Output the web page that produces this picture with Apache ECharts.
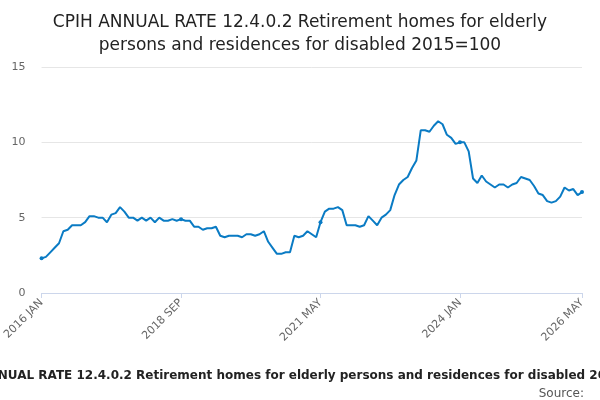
<!DOCTYPE html>
<html>
<head>
<meta charset="utf-8">
<script src="https://cdn.jsdelivr.net/npm/echarts@6/dist/echarts.min.js"></script>
<style>
    html, body { margin: 0; padding: 0; background: #fff; }
    #chart { width: 600px; height: 400px; }
</style>
</head>
<body>
<div id="chart"></div>
<script>
const monthNames = ["JAN", "FEB", "MAR", "APR", "MAY", "JUN", "JUL", "AUG", "SEP", "OCT", "NOV", "DEC"];
const startYear = 2016;
const monthCount = 125;

const rates = [
    2.3, 2.4, 2.7, 3.0, 3.3, 4.1, 4.2, 4.5, 4.5, 4.5, 4.7, 5.1,
    5.1, 5.0, 5.0, 4.7, 5.2, 5.3, 5.7, 5.4, 5.0, 5.0, 4.8, 5.0,
    4.8, 5.0, 4.7, 5.0, 4.8, 4.8, 4.9, 4.8, 4.9, 4.8, 4.8, 4.4,
    4.4, 4.2, 4.3, 4.3, 4.4, 3.8, 3.7, 3.8, 3.8, 3.8, 3.7, 3.9,
    3.9, 3.8, 3.9, 4.1, 3.4, 3.0, 2.6, 2.6, 2.7, 2.7, 3.8, 3.7,
    3.8, 4.1, 3.9, 3.7, 4.7, 5.4, 5.6, 5.6, 5.7, 5.5, 4.5, 4.5,
    4.5, 4.4, 4.5, 5.1, 4.8, 4.5, 5.0, 5.2, 5.5, 6.5, 7.2, 7.5,
    7.7, 8.3, 8.8, 10.8, 10.8, 10.7, 11.1, 11.4, 11.2, 10.5, 10.3, 9.9,
    10.0, 10.0, 9.4, 7.6, 7.3, 7.8, 7.4, 7.2, 7.0, 7.2, 7.2, 7.0,
    7.2, 7.3, 7.7, 7.6, 7.5, 7.1, 6.6, 6.5, 6.1, 6.0, 6.1, 6.4,
    7.0, 6.8, 6.9, 6.5, 6.7
];

const months = [];
for (let i = 0; i < monthCount; i++) {
    months.push((startYear + Math.floor(i / 12)) + " " + monthNames[i % 12]);
}

const yTicks = [0, 5, 10, 15];
const labelIdx = [0, 32, 64, 96, 124];

const chart = echarts.init(document.getElementById("chart"));

chart.setOption({
    animation: false,
    title: [
        {
            text: "CPIH ANNUAL RATE 12.4.0.2 Retirement homes for elderly\npersons and residences for disabled 2015=100",
            left: "center",
            top: 6,
            textStyle: {
                color: "#222",
                fontSize: 17,
                fontWeight: "normal",
                fontFamily: "DejaVu Sans",
                lineHeight: 23,
            }
        },
        {
            text: "CPIH ANNUAL RATE 12.4.0.2 Retirement homes for elderly persons and residences for disabled 2015=100",
            left: "center",
            top: 365,
            textStyle: {
                color: "#222",
                fontSize: 12,
                fontWeight: "bold",
                fontFamily: "DejaVu Sans",
            }
        },
        {
            text: "Source:",
            right: 11,
            top: 383,
            textStyle: {
                color: "#555",
                fontSize: 12,
                fontWeight: "normal",
                fontFamily: "DejaVu Sans",
            }
        }
    ],
    grid: {
        left: 40,
        right: 18,
        top: 67,
        bottom: 107,
    },
    xAxis: {
        type: "category",
        data: months,
        boundaryGap: false,
        axisLine: { lineStyle: { color: "#ccd6eb" } },
        axisTick: {
            show: true,
            alignWithLabel: true,
            interval: (i) => labelIdx.includes(i),
            lineStyle: { color: "#ccd6eb" },
        },
        axisLabel: {
            interval: (i) => labelIdx.includes(i),
            rotate: 45,
            color: "#666",
            fontSize: 11,
            fontFamily: "DejaVu Sans",
        },
    },
    yAxis: {
        type: "value",
        min: yTicks[0],
        max: yTicks[yTicks.length - 1],
        interval: 5,
        axisLine: { show: false },
        axisTick: { show: false },
        axisLabel: {
            color: "#666",
            fontSize: 11,
            fontFamily: "DejaVu Sans",
            margin: 16,
        },
        splitLine: { lineStyle: { color: "#e6e6e6" } },
    },
    series: [
        {
            type: "line",
            data: rates,
            symbol: "circle",
            symbolSize: 4,
            lineStyle: { color: "#0a7bc4", width: 2 },
            itemStyle: { color: "#0a7bc4" },
        }
    ],
});
</script>
</body>
</html>
